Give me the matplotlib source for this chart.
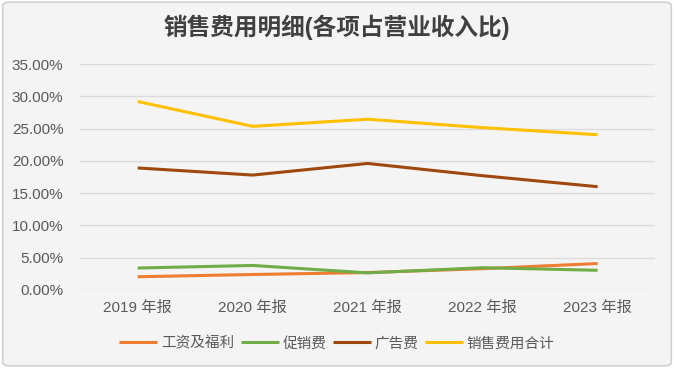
import matplotlib.pyplot as plt
from matplotlib.patches import FancyBboxPatch

plt.rcParams['font.family'] = ['Liberation Sans', 'Noto Sans CJK SC', 'DejaVu Sans']

years = ['2019 年报', '2020 年报', '2021 年报', '2022 年报', '2023 年报']
salary = [2.05, 2.4, 2.7, 3.3, 4.1]
promo = [3.4, 3.8, 2.65, 3.45, 3.05]
ads = [18.9, 17.8, 19.6, 17.7, 16.0]
total = [29.2, 25.35, 26.45, 25.15, 24.05]

names = ['工资及福利', '促销费', '广告费', '销售费用合计']
colors = ['#ED7D31', '#70AD47', '#9E480E', '#FFC000']

bg = '#f4f4f4'
fig = plt.figure(figsize=(6.74, 3.68), dpi=100)
fig.patch.set_facecolor('white')
fig.patches.append(FancyBboxPatch((0.004, 0.006), 0.992, 0.988, boxstyle='round,pad=0,rounding_size=0.01',
                                  transform=fig.transFigure, facecolor=bg, edgecolor='#d0d0d0',
                                  linewidth=1.2, zorder=-1))

ax = fig.add_axes([0.119, 0.212, 0.853, 0.614])
ax.set_facecolor(bg)

x = range(len(years))
for vals, name, c in zip([salary, promo, ads, total], names, colors):
    ax.plot(x, vals, color=c, lw=2.2, label=name, solid_capstyle='butt')

ax.set_xlim(-0.5, 4.5)
ax.set_ylim(0, 35)
ax.set_yticks(range(0, 36, 5))
ax.set_yticklabels([f'{v:.2f}%' for v in range(0, 36, 5)])
ax.set_xticks(list(x))
ax.set_xticklabels(years)
ax.tick_params(length=0, labelsize=11, labelcolor='#595959', pad=8)
ax.tick_params(axis='y', pad=12)
ax.grid(axis='y', color='#dcdcdc', lw=1)
ax.set_axisbelow(True)
for s in ax.spines.values():
    s.set_visible(False)

fig.text(0.5, 0.925, '销售费用明细(各项占营业收入比)', ha='center', va='center',
         fontsize=17, fontweight='bold', color='#404040')

fig.legend(loc='center', bbox_to_anchor=(0.5, 0.067), ncol=4, frameon=False,
           fontsize=10.5, handlelength=2.6, handletextpad=0.3, columnspacing=0.4,
           labelcolor='#595959')

fig.savefig('out.png', dpi=100, facecolor='white')
